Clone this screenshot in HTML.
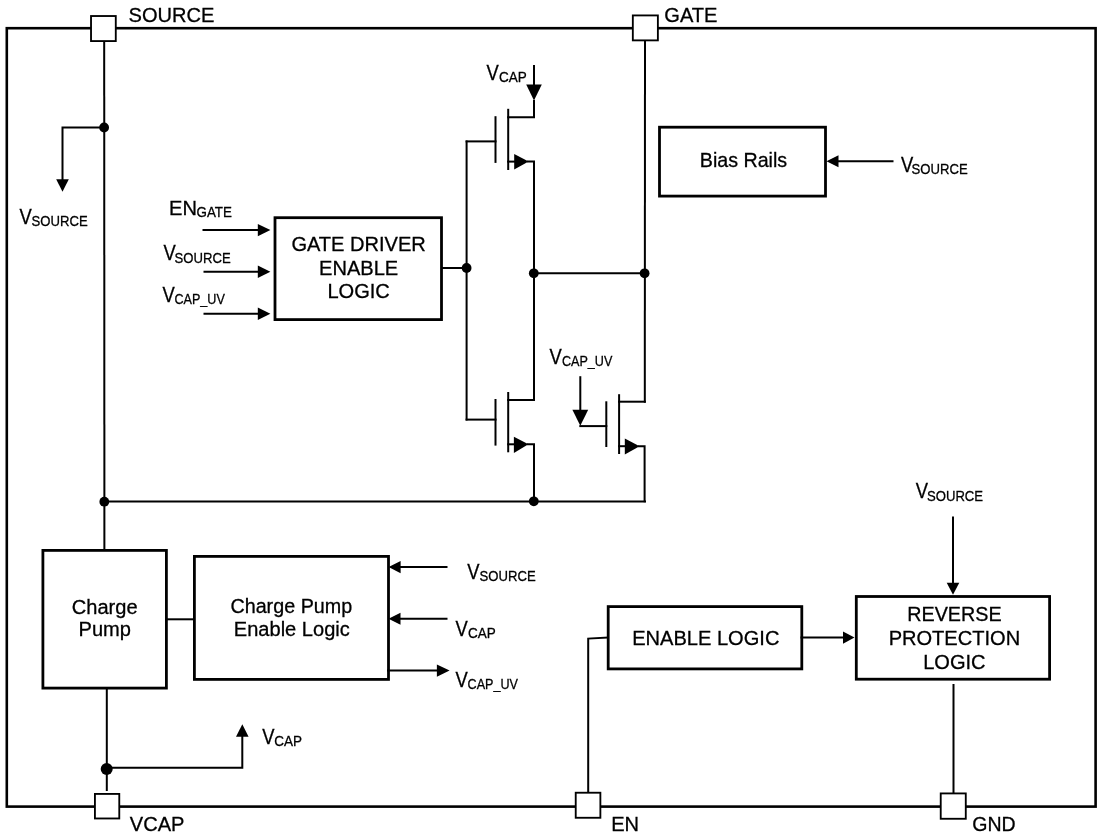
<!DOCTYPE html>
<html><head><meta charset="utf-8"><style>
html,body{margin:0;padding:0;background:#fff;width:1100px;height:838px;overflow:hidden}
svg{display:block;will-change:transform}
text{font-family:"Liberation Sans", sans-serif;fill:#000;stroke:#000;stroke-width:0.3px}
</style></head><body>
<svg width="1100" height="838" viewBox="0 0 1100 838">
<rect x="0" y="0" width="1100" height="838" fill="#fff"/>
<rect x="6.8" y="28.2" width="1088.8" height="778.4" fill="none" stroke="#000" stroke-width="2.6"/>
<path d="M104.2,41 L104.4,549" fill="none" stroke="#000" stroke-width="2.0" stroke-linecap="square" stroke-linejoin="miter"/>
<circle cx="104.1" cy="127.5" r="4.9" fill="#000"/>
<path d="M104,127.5 L62.5,127.5 L62.5,180" fill="none" stroke="#000" stroke-width="2.0" stroke-linecap="square" stroke-linejoin="miter"/>
<polygon points="62.5,191.8 56.2,179.20000000000002 68.8,179.20000000000002" fill="#000"/>
<text transform="translate(19.5,223.6) scale(0.84,1)" font-size="21.9" text-anchor="start">V</text>
<text transform="translate(31.6,226.4) scale(0.863,1)" font-size="15.2" text-anchor="start">SOURCE</text>
<text transform="translate(169,215) scale(0.965,1)" font-size="20.8" text-anchor="start">EN</text>
<text transform="translate(196.5,216.6) scale(0.88,1)" font-size="15.2" text-anchor="start">GATE</text>
<path d="M203.5,230.1 L260,230.1" fill="none" stroke="#000" stroke-width="2.0" stroke-linecap="square" stroke-linejoin="miter"/>
<polygon points="270.4,230.1 257.79999999999995,223.9 257.79999999999995,236.29999999999998" fill="#000"/>
<text transform="translate(163.5,260) scale(0.84,1)" font-size="21.9" text-anchor="start">V</text>
<text transform="translate(174.6,262.8) scale(0.863,1)" font-size="15.2" text-anchor="start">SOURCE</text>
<path d="M204.5,271.8 L260,271.8" fill="none" stroke="#000" stroke-width="2.0" stroke-linecap="square" stroke-linejoin="miter"/>
<polygon points="270.4,271.8 257.79999999999995,265.6 257.79999999999995,278.0" fill="#000"/>
<text transform="translate(162.5,301.8) scale(0.84,1)" font-size="21.9" text-anchor="start">V</text>
<text transform="translate(174.4,304.40000000000003) scale(0.83,1)" font-size="15.2" text-anchor="start">CAP_UV</text>
<path d="M204.5,313.8 L260,313.8" fill="none" stroke="#000" stroke-width="2.0" stroke-linecap="square" stroke-linejoin="miter"/>
<polygon points="270.4,313.8 257.79999999999995,307.6 257.79999999999995,320.0" fill="#000"/>
<rect x="275" y="217.7" width="166.5" height="101.90000000000003" fill="#fff" stroke="#000" stroke-width="2.8"/>
<text transform="translate(358.6,250.8) scale(0.965,1)" font-size="20.8" text-anchor="middle">GATE DRIVER</text>
<text transform="translate(358.6,274.5) scale(0.965,1)" font-size="20.8" text-anchor="middle">ENABLE</text>
<text transform="translate(358.6,297.6) scale(0.965,1)" font-size="20.8" text-anchor="middle">LOGIC</text>
<path d="M442,268 L466.6,268" fill="none" stroke="#000" stroke-width="2.0" stroke-linecap="square" stroke-linejoin="miter"/>
<circle cx="466.6" cy="268" r="4.9" fill="#000"/>
<path d="M466.6,141.4 L466.6,419.6" fill="none" stroke="#000" stroke-width="2.0" stroke-linecap="square" stroke-linejoin="miter"/>
<path d="M466.6,141.4 L495.5,141.4" fill="none" stroke="#000" stroke-width="2.0" stroke-linecap="square" stroke-linejoin="miter"/>
<path d="M495.5,117.2 L495.5,161.9" fill="none" stroke="#000" stroke-width="2" stroke-linecap="square" stroke-linejoin="miter"/>
<path d="M508.2,109.8 L508.2,169" fill="none" stroke="#000" stroke-width="2" stroke-linecap="square" stroke-linejoin="miter"/>
<path d="M508.2,117.2 L534,117.2 L534,101" fill="none" stroke="#000" stroke-width="2.0" stroke-linecap="square" stroke-linejoin="miter"/>
<path d="M534,66 L534,86" fill="none" stroke="#000" stroke-width="2.0" stroke-linecap="square" stroke-linejoin="miter"/>
<polygon points="534,100.5 526.2,84.5 541.8,84.5" fill="#000"/>
<text transform="translate(486.5,79.6) scale(0.84,1)" font-size="21.9" text-anchor="start">V</text>
<text transform="translate(499.0,81.8) scale(0.89,1)" font-size="15.2" text-anchor="start">CAP</text>
<path d="M508.2,161.6 L514,161.6" fill="none" stroke="#000" stroke-width="2.0" stroke-linecap="square" stroke-linejoin="miter"/>
<polygon points="514.2,153.9 514.2,169.6 528.6,161.6" fill="#000"/>
<path d="M528,161.6 L534,161.6 L534,400" fill="none" stroke="#000" stroke-width="2.0" stroke-linecap="square" stroke-linejoin="miter"/>
<circle cx="533.8" cy="273.3" r="4.9" fill="#000"/>
<circle cx="644.6" cy="273.3" r="4.9" fill="#000"/>
<path d="M533.8,273.3 L644.6,273.3" fill="none" stroke="#000" stroke-width="2.0" stroke-linecap="square" stroke-linejoin="miter"/>
<path d="M645,40.5 L644.8,401.7" fill="none" stroke="#000" stroke-width="2.0" stroke-linecap="square" stroke-linejoin="miter"/>
<path d="M466.6,419.6 L495.5,419.6" fill="none" stroke="#000" stroke-width="2.0" stroke-linecap="square" stroke-linejoin="miter"/>
<path d="M495.5,400 L495.5,444.6" fill="none" stroke="#000" stroke-width="2" stroke-linecap="square" stroke-linejoin="miter"/>
<path d="M508.2,393 L508.2,451.3" fill="none" stroke="#000" stroke-width="2" stroke-linecap="square" stroke-linejoin="miter"/>
<path d="M508.2,400 L534,400" fill="none" stroke="#000" stroke-width="2.0" stroke-linecap="square" stroke-linejoin="miter"/>
<path d="M508.2,444.3 L514,444.3" fill="none" stroke="#000" stroke-width="2.0" stroke-linecap="square" stroke-linejoin="miter"/>
<polygon points="513.9,436.8 513.9,452.9 528.4,444.3" fill="#000"/>
<path d="M528,444.3 L534,444.3 L534,501.3" fill="none" stroke="#000" stroke-width="2.0" stroke-linecap="square" stroke-linejoin="miter"/>
<text transform="translate(549.5,363.8) scale(0.84,1)" font-size="21.9" text-anchor="start">V</text>
<text transform="translate(561.9,366.3) scale(0.83,1)" font-size="15.2" text-anchor="start">CAP_UV</text>
<path d="M580.3,377.2 L580.3,410" fill="none" stroke="#000" stroke-width="2.0" stroke-linecap="square" stroke-linejoin="miter"/>
<polygon points="580.3,425.8 572.4,409.8 588.1999999999999,409.8" fill="#000"/>
<path d="M580.3,426.1 L606.3,426.1" fill="none" stroke="#000" stroke-width="2.0" stroke-linecap="square" stroke-linejoin="miter"/>
<path d="M606.3,402.3 L606.3,446" fill="none" stroke="#000" stroke-width="2" stroke-linecap="square" stroke-linejoin="miter"/>
<path d="M619.1,395.2 L619.1,453" fill="none" stroke="#000" stroke-width="2" stroke-linecap="square" stroke-linejoin="miter"/>
<path d="M619.1,401.7 L644.8,401.7" fill="none" stroke="#000" stroke-width="2.0" stroke-linecap="square" stroke-linejoin="miter"/>
<path d="M619.1,446.2 L624,446.2" fill="none" stroke="#000" stroke-width="2.0" stroke-linecap="square" stroke-linejoin="miter"/>
<polygon points="624.8,438.6 624.8,454.4 639.6,446.2" fill="#000"/>
<path d="M639,446.2 L644.6,446.2 L644.6,501.3" fill="none" stroke="#000" stroke-width="2.0" stroke-linecap="square" stroke-linejoin="miter"/>
<path d="M104.4,501.5 L645,501.5" fill="none" stroke="#000" stroke-width="2.0" stroke-linecap="square" stroke-linejoin="miter"/>
<circle cx="104.3" cy="501.7" r="4.9" fill="#000"/>
<circle cx="533.8" cy="501.3" r="4.9" fill="#000"/>
<rect x="659.5" y="127.2" width="166.0" height="68.89999999999999" fill="#fff" stroke="#000" stroke-width="2.8"/>
<text transform="translate(743.45,166.8) scale(0.945,1)" font-size="20.8" text-anchor="middle">Bias Rails</text>
<path d="M837,161.3 L892.5,161.3" fill="none" stroke="#000" stroke-width="2.0" stroke-linecap="square" stroke-linejoin="miter"/>
<polygon points="826.5,161.3 838.5,155.3 838.5,167.3" fill="#000"/>
<text transform="translate(901,171.5) scale(0.84,1)" font-size="21.9" text-anchor="start">V</text>
<text transform="translate(911.6,173.8) scale(0.863,1)" font-size="15.2" text-anchor="start">SOURCE</text>
<rect x="42.9" y="550.4" width="123.5" height="137.70000000000005" fill="#fff" stroke="#000" stroke-width="2.8"/>
<text transform="translate(104.7,613.8) scale(0.965,1)" font-size="20.8" text-anchor="middle">Charge</text>
<text transform="translate(104.7,636.4) scale(0.965,1)" font-size="20.8" text-anchor="middle">Pump</text>
<path d="M166,619.3 L194,619.3" fill="none" stroke="#000" stroke-width="2.0" stroke-linecap="square" stroke-linejoin="miter"/>
<rect x="194.4" y="556.4" width="194.1" height="123.0" fill="#fff" stroke="#000" stroke-width="2.8"/>
<text transform="translate(291.3,613.3) scale(0.95,1)" font-size="20.8" text-anchor="middle">Charge Pump</text>
<text transform="translate(291.8,636.3) scale(0.965,1)" font-size="20.8" text-anchor="middle">Enable Logic</text>
<path d="M399,567.1 L446.5,567.1" fill="none" stroke="#000" stroke-width="2.0" stroke-linecap="square" stroke-linejoin="miter"/>
<polygon points="388.6,567.1 400.6,561.0 400.6,573.2" fill="#000"/>
<path d="M399,618.8 L446.5,618.8" fill="none" stroke="#000" stroke-width="2.0" stroke-linecap="square" stroke-linejoin="miter"/>
<polygon points="388.5,618.8 400.5,612.8 400.5,624.8" fill="#000"/>
<path d="M388,670.6 L437,670.6" fill="none" stroke="#000" stroke-width="2.0" stroke-linecap="square" stroke-linejoin="miter"/>
<polygon points="449.6,670.6 436.90000000000003,664.4 436.90000000000003,676.8000000000001" fill="#000"/>
<text transform="translate(467.3,578.8) scale(0.84,1)" font-size="21.9" text-anchor="start">V</text>
<text transform="translate(479.6,581.4) scale(0.863,1)" font-size="15.2" text-anchor="start">SOURCE</text>
<text transform="translate(455.5,635.8) scale(0.84,1)" font-size="21.9" text-anchor="start">V</text>
<text transform="translate(468.0,638.4) scale(0.89,1)" font-size="15.2" text-anchor="start">CAP</text>
<text transform="translate(455.5,686.8) scale(0.84,1)" font-size="21.9" text-anchor="start">V</text>
<text transform="translate(467.59999999999997,689.4) scale(0.83,1)" font-size="15.2" text-anchor="start">CAP_UV</text>
<path d="M106.8,688 L106.8,790" fill="none" stroke="#000" stroke-width="2.0" stroke-linecap="square" stroke-linejoin="miter"/>
<circle cx="106.7" cy="769" r="6" fill="#000"/>
<path d="M106.6,767.8 L242.3,767.8 L242.3,736" fill="none" stroke="#000" stroke-width="2.0" stroke-linecap="square" stroke-linejoin="miter"/>
<polygon points="242.3,724.3 236.0,736.8 248.60000000000002,736.8" fill="#000"/>
<text transform="translate(262.3,743.8) scale(0.84,1)" font-size="21.9" text-anchor="start">V</text>
<text transform="translate(274.3,746.3) scale(0.89,1)" font-size="15.2" text-anchor="start">CAP</text>
<rect x="608.2" y="606.6" width="193.5999999999999" height="62.299999999999955" fill="#fff" stroke="#000" stroke-width="2.8"/>
<text transform="translate(705.8,645.1) scale(0.965,1)" font-size="20.8" text-anchor="middle">ENABLE LOGIC</text>
<path d="M608,637.6 L588.2,638.6 L588.2,791" fill="none" stroke="#000" stroke-width="2.0" stroke-linecap="square" stroke-linejoin="miter"/>
<path d="M801.5,637.6 L843,637.6" fill="none" stroke="#000" stroke-width="2.0" stroke-linecap="square" stroke-linejoin="miter"/>
<polygon points="854.5,637.6 843.0,631.5 843.0,643.7" fill="#000"/>
<rect x="856.3" y="596.5" width="193.29999999999995" height="82.70000000000005" fill="#fff" stroke="#000" stroke-width="2.8"/>
<text transform="translate(954.4,620.6) scale(0.95,1)" font-size="20.8" text-anchor="middle">REVERSE</text>
<text transform="translate(954.4,644.8) scale(0.965,1)" font-size="20.8" text-anchor="middle">PROTECTION</text>
<text transform="translate(954.4,668.7) scale(0.965,1)" font-size="20.8" text-anchor="middle">LOGIC</text>
<text transform="translate(915.8,498.2) scale(0.84,1)" font-size="21.9" text-anchor="start">V</text>
<text transform="translate(927.0,500.8) scale(0.863,1)" font-size="15.2" text-anchor="start">SOURCE</text>
<path d="M953,517.6 L953,584" fill="none" stroke="#000" stroke-width="2.0" stroke-linecap="square" stroke-linejoin="miter"/>
<polygon points="953,594.8 946.7,582.8 959.3,582.8" fill="#000"/>
<path d="M953.5,685 L953.5,792.5" fill="none" stroke="#000" stroke-width="2.0" stroke-linecap="square" stroke-linejoin="miter"/>
<rect x="91.02499999999999" y="16.025" width="24.750000000000007" height="25.049999999999997" fill="#fff" stroke="#000" stroke-width="1.85"/>
<rect x="632.8249999999999" y="15.425" width="25.049999999999976" height="24.949999999999996" fill="#fff" stroke="#000" stroke-width="1.85"/>
<rect x="94.925" y="793.925" width="24.35" height="24.549999999999976" fill="#fff" stroke="#000" stroke-width="1.85"/>
<rect x="575.7249999999999" y="792.7249999999999" width="24.65" height="25.05000000000009" fill="#fff" stroke="#000" stroke-width="1.85"/>
<rect x="940.7249999999999" y="793.425" width="25.05000000000009" height="25.350000000000044" fill="#fff" stroke="#000" stroke-width="1.85"/>
<text transform="translate(128.6,21.8) scale(0.965,1)" font-size="20.8" text-anchor="start">SOURCE</text>
<text transform="translate(664.3,22) scale(0.965,1)" font-size="20.8" text-anchor="start">GATE</text>
<text transform="translate(129.8,831) scale(0.965,1)" font-size="20.8" text-anchor="start">VCAP</text>
<text transform="translate(611.2,831.4) scale(0.965,1)" font-size="20.8" text-anchor="start">EN</text>
<text transform="translate(972.2,831.3) scale(0.94,1)" font-size="20.8" text-anchor="start">GND</text>
</svg>
</body></html>
